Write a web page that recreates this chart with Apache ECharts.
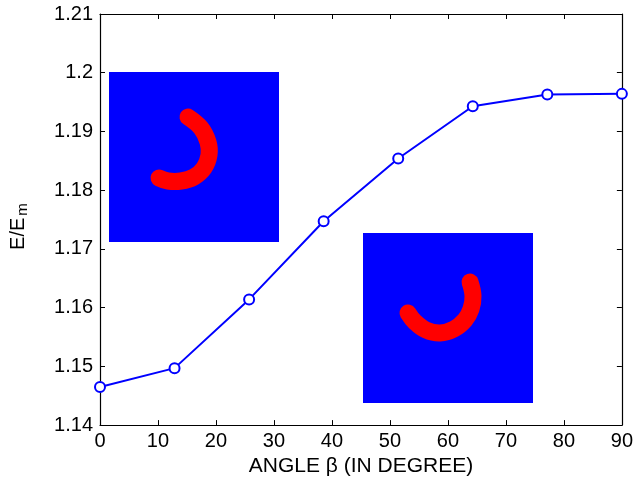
<!DOCTYPE html>
<html>
<head>
<meta charset="utf-8">
<script src="https://cdn.jsdelivr.net/npm/echarts@6/dist/echarts.min.js"></script>
<style>
  html, body { margin: 0; padding: 0; background: #fff; }
  #chart { width: 636px; height: 482px; }
</style>
</head>
<body>
<div id="chart"></div>
<script>
// angle beta in degrees (8 steps of 90/7)
const angles = [0, 12.857, 25.714, 38.571, 51.429, 64.286, 77.143, 90]
const ratio = [1.1465, 1.1497, 1.1614, 1.1747, 1.1854, 1.1943, 1.1963, 1.1964]

const xTicks = { min: 0, max: 90, step: 10 }
const yTicks = { min: 1.14, max: 1.21, step: 0.01 }

const font = 'Liberation Sans, Arial, Helvetica, sans-serif'

const chart = echarts.init(document.getElementById('chart'))

// common axis look, matlab style box with inward ticks
const axisBase = {
  axisLine: { show: true, onZero: false, lineStyle: { color: '#000', width: 1.2 } },
  axisTick: { show: true, inside: true, length: 5, lineStyle: { color: '#000', width: 1 } },
  splitLine: { show: false }
}

// inset pictures: blue square with a red bent strip
const inset = (x, y, pts) => [
  {
    type: 'rect',
    shape: { x: x, y: y, width: 170, height: 170 },
    style: { fill: '#0000ff' },
    z: 10
  },
  {
    type: 'polyline',
    shape: { points: pts, smooth: 0.4 },
    style: { stroke: '#ff0000', lineWidth: 17, lineCap: 'round', lineJoin: 'round', fill: null },
    z: 11
  }
]

const option = {
  animation: false,
  grid: { left: 100, right: 14, top: 14, bottom: 53 },
  xAxis: [
    {
      ...axisBase,
      type: 'value',
      min: xTicks.min,
      max: xTicks.max,
      interval: xTicks.step,
      position: 'bottom',
      name: 'ANGLE β (IN DEGREE)',
      nameLocation: 'middle',
      nameGap: 28,
      nameTextStyle: { color: '#000', fontSize: 21, fontFamily: font },
      axisLabel: { color: '#000', fontSize: 20, fontFamily: font, margin: 6 }
    },
    {
      ...axisBase,
      type: 'value',
      min: xTicks.min,
      max: xTicks.max,
      interval: xTicks.step,
      position: 'top',
      axisLabel: { show: false }
    }
  ],
  yAxis: [
    {
      ...axisBase,
      type: 'value',
      min: yTicks.min,
      max: yTicks.max,
      interval: yTicks.step,
      position: 'left',
      name: '{n|E/E}{s|m}',
      nameLocation: 'middle',
      nameGap: 70,
      nameTextStyle: {
        padding: [0, 14, 0, 0],
        rich: {
          n: { color: '#000', fontSize: 20, fontFamily: font },
          s: { color: '#000', fontSize: 15, fontFamily: font, verticalAlign: 'bottom', padding: [9, 0, 0, 2] }
        }
      },
      axisLabel: {
        color: '#000',
        fontSize: 20,
        fontFamily: font,
        margin: 7,
        formatter: (v) => String(parseFloat(v.toFixed(2)))
      }
    },
    {
      ...axisBase,
      type: 'value',
      min: yTicks.min,
      max: yTicks.max,
      interval: yTicks.step,
      position: 'right',
      axisLabel: { show: false }
    }
  ],
  series: [
    {
      type: 'line',
      data: angles.map((a, i) => [a, ratio[i]]),
      clip: false,
      symbol: 'emptyCircle',
      symbolSize: 10,
      lineStyle: { color: '#0000ff', width: 2 },
      itemStyle: { color: '#0000ff', borderColor: '#0000ff', borderWidth: 2 },
      z: 5
    }
  ],
  graphic: [
    ...inset(109, 72, [[188, 117], [201, 128], [208, 142], [209, 155], [204, 168], [194, 177], [181, 181], [168, 181], [159, 178]]),
    ...inset(363, 233, [[470, 282], [473, 296], [471, 309], [465, 320], [454, 329], [440, 333], [426, 330], [415, 322], [408, 313]])
  ]
}

chart.setOption(option)
</script>
</body>
</html>
